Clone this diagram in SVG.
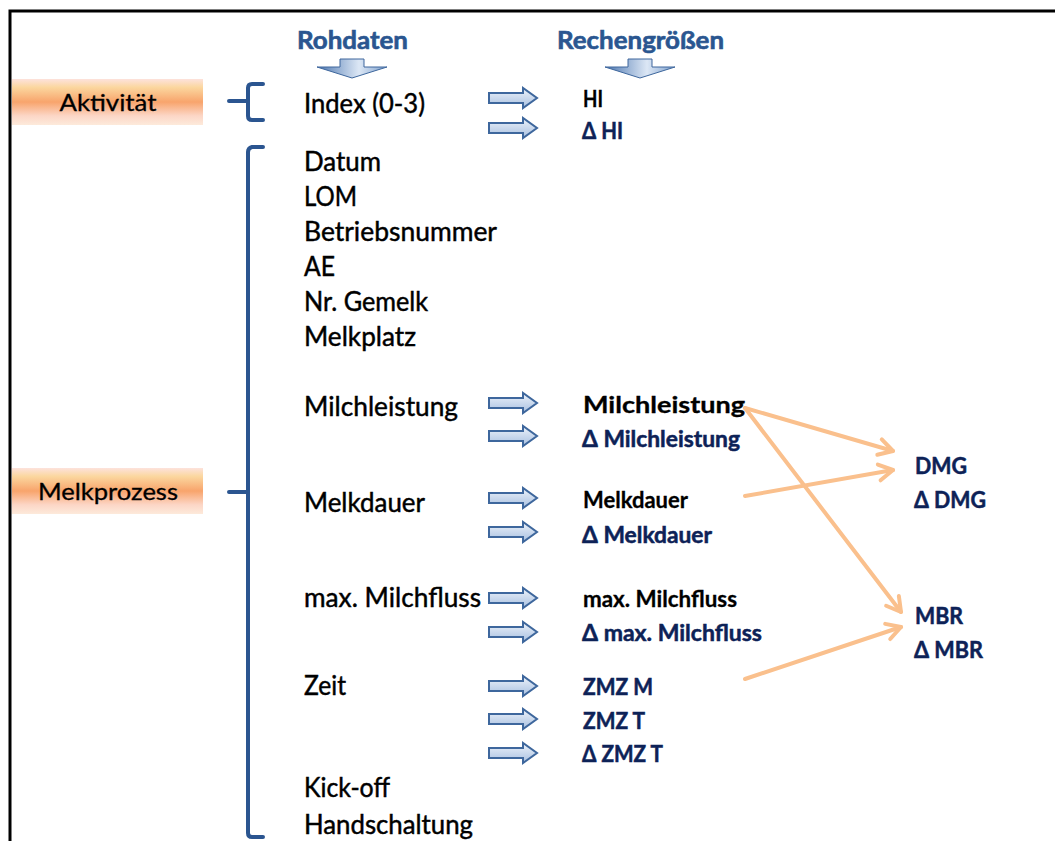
<svg xmlns="http://www.w3.org/2000/svg" width="1055" height="841" viewBox="0 0 1055 841">
  <defs>
    <linearGradient id="band" x1="0" y1="0" x2="0" y2="1">
      <stop offset="0" stop-color="#fde2dc"/>
      <stop offset="0.18" stop-color="#fbd79f"/>
      <stop offset="0.5" stop-color="#f8a46c"/>
      <stop offset="0.8" stop-color="#fcd6c6"/>
      <stop offset="1" stop-color="#fdeadb"/>
    </linearGradient>
    <linearGradient id="arrFill" x1="0" y1="0" x2="0" y2="1">
      <stop offset="0" stop-color="#eef3fa"/>
      <stop offset="1" stop-color="#a7bfe0"/>
    </linearGradient>
    <linearGradient id="downFill" x1="0" y1="0" x2="1" y2="0">
      <stop offset="0" stop-color="#4d77b0"/>
      <stop offset="0.6" stop-color="#dce7f5"/>
      <stop offset="1" stop-color="#7c9fcc"/>
    </linearGradient>
    <path id="rarrow" d="M0,-5 H34 V-10 L48,0 L34,10 V5 H0 Z"/>
    <path id="darrow" d="M-12,0 H12 V8 H35 L0,19 L-35,8 H-12 Z"/>
    <marker id="chev" markerUnits="userSpaceOnUse" markerWidth="24" markerHeight="24" refX="18" refY="12" orient="auto">
      <path d="M4,4 L18,12 L4,20" fill="none" stroke="#fac08d" stroke-width="4" stroke-linecap="round" stroke-linejoin="round"/>
    </marker>
  </defs>
  <style>
    .frame { stroke: #000; stroke-width: 3; fill: none; }
    .brace { stroke: #2b5590; stroke-width: 4; fill: none; stroke-linecap: round; stroke-linejoin: round; }
    .raw { font-family: Lato, "Liberation Sans", sans-serif; font-size: 26px; fill: #000; stroke: #000; stroke-width: 0.45; }
    .cat { font-family: Lato, "Liberation Sans", sans-serif; font-size: 24px; fill: #000; stroke: #000; stroke-width: 0.3; text-anchor: middle; }
    .head { font-family: Lato, "Liberation Sans", sans-serif; font-size: 24px; font-weight: bold; fill: #2a5690; stroke: #2a5690; stroke-width: 0.6; }
    .calc { font-family: Lato, "Liberation Sans", sans-serif; font-size: 22px; font-weight: bold; fill: #000; stroke: #000; stroke-width: 0.3; }
    .delta { font-family: Lato, "Liberation Sans", sans-serif; font-size: 22px; font-weight: bold; fill: #0d2257; stroke: #0d2257; stroke-width: 0.5; }
    .rarr { fill: url(#arrFill); stroke: #3e679d; stroke-width: 2; }
    .darr { fill: url(#downFill); stroke: #3e679d; stroke-width: 1; }
    .link { stroke: #fac08d; stroke-width: 4; fill: none; stroke-linecap: round; marker-end: url(#chev); }
  </style>

  <rect width="1055" height="841" fill="#fff"/>
  <!-- outer frame (open on the right and bottom) -->
  <path class="frame" d="M10,841 V11 H1055"/>

  <!-- column headings -->
  <g id="heading-rohdaten">
    <text class="head" x="297" y="49" textLength="111" lengthAdjust="spacingAndGlyphs">Rohdaten</text>
    <use href="#darrow" x="352" y="59" class="darr"/>
  </g>
  <g id="heading-rechengroessen">
    <text class="head" x="557" y="49" textLength="167" lengthAdjust="spacingAndGlyphs">Rechengrößen</text>
    <use href="#darrow" x="640" y="59" class="darr"/>
  </g>

  <!-- categories -->
  <g id="cat-aktivitaet">
    <rect x="12" y="79" width="191" height="46" fill="url(#band)"/>
    <text class="cat" x="108" y="111" textLength="97" lengthAdjust="spacingAndGlyphs">Aktivität</text>
    <path class="brace" d="M263,84 H252 Q248,84 248,88 V116 Q248,120 252,120 H263 M229,101 H248"/>
  </g>
  <g id="cat-melkprozess">
    <rect x="12" y="468" width="191" height="46" fill="url(#band)"/>
    <text class="cat" x="108" y="500" textLength="140" lengthAdjust="spacingAndGlyphs">Melkprozess</text>
    <path class="brace" d="M263,147 H252 Q248,148 248,152 V833 Q248,837 252,837 H263 M229,492 H248"/>
  </g>

  <!-- raw data -->
  <g id="raw-data">
    <text class="raw" x="304" y="113" textLength="121" lengthAdjust="spacingAndGlyphs">Index (0-3)</text>
    <text class="raw" x="304" y="171" textLength="77" lengthAdjust="spacingAndGlyphs">Datum</text>
    <text class="raw" x="304" y="206" textLength="53" lengthAdjust="spacingAndGlyphs">LOM</text>
    <text class="raw" x="304" y="241" textLength="193" lengthAdjust="spacingAndGlyphs">Betriebsnummer</text>
    <text class="raw" x="304" y="276" textLength="31" lengthAdjust="spacingAndGlyphs">AE</text>
    <text class="raw" x="304" y="311" textLength="124" lengthAdjust="spacingAndGlyphs">Nr. Gemelk</text>
    <text class="raw" x="304" y="346" textLength="112" lengthAdjust="spacingAndGlyphs">Melkplatz</text>
    <text class="raw" x="304" y="416" textLength="154" lengthAdjust="spacingAndGlyphs">Milchleistung</text>
    <text class="raw" x="304" y="512" textLength="121" lengthAdjust="spacingAndGlyphs">Melkdauer</text>
    <text class="raw" x="304" y="607" textLength="177" lengthAdjust="spacingAndGlyphs">max. Milchfluss</text>
    <text class="raw" x="304" y="695" textLength="42" lengthAdjust="spacingAndGlyphs">Zeit</text>
    <text class="raw" x="304" y="797" textLength="86" lengthAdjust="spacingAndGlyphs">Kick-off</text>
    <text class="raw" x="304" y="834" textLength="169" lengthAdjust="spacingAndGlyphs">Handschaltung</text>
  </g>

  <!-- derived values -->
  <g id="derived">
    <text class="calc" x="583" y="107" textLength="20" lengthAdjust="spacingAndGlyphs">HI</text>
    <text class="delta" x="582" y="139" textLength="41" lengthAdjust="spacingAndGlyphs">Δ HI</text>
    <text class="calc" x="583" y="413" textLength="162" lengthAdjust="spacingAndGlyphs">Milchleistung</text>
    <text class="delta" x="582" y="447" textLength="158" lengthAdjust="spacingAndGlyphs">Δ Milchleistung</text>
    <text class="calc" x="583" y="508" textLength="105" lengthAdjust="spacingAndGlyphs">Melkdauer</text>
    <text class="delta" x="582" y="543" textLength="130" lengthAdjust="spacingAndGlyphs">Δ Melkdauer</text>
    <text class="calc" x="583" y="607" textLength="154" lengthAdjust="spacingAndGlyphs">max. Milchfluss</text>
    <text class="delta" x="582" y="641" textLength="180" lengthAdjust="spacingAndGlyphs">Δ max. Milchfluss</text>
    <text class="delta" x="583" y="695" textLength="70" lengthAdjust="spacingAndGlyphs">ZMZ M</text>
    <text class="delta" x="583" y="729" textLength="62" lengthAdjust="spacingAndGlyphs">ZMZ T</text>
    <text class="delta" x="582" y="762" textLength="81" lengthAdjust="spacingAndGlyphs">Δ ZMZ T</text>
  </g>

  <g id="dmg">
    <text class="delta" x="915" y="474" textLength="52" lengthAdjust="spacingAndGlyphs">DMG</text>
    <text class="delta" x="914" y="508" textLength="72" lengthAdjust="spacingAndGlyphs">Δ DMG</text>
  </g>
  <g id="mbr">
    <text class="delta" x="915" y="624" textLength="48" lengthAdjust="spacingAndGlyphs">MBR</text>
    <text class="delta" x="914" y="658" textLength="69" lengthAdjust="spacingAndGlyphs">Δ MBR</text>
  </g>

  <!-- connectors -->
  <g id="connectors">
    <use href="#rarrow" class="rarr" x="489" y="98"/>
    <use href="#rarrow" class="rarr" x="489" y="128"/>
    <use href="#rarrow" class="rarr" x="489" y="403"/>
    <use href="#rarrow" class="rarr" x="489" y="436"/>
    <use href="#rarrow" class="rarr" x="489" y="498"/>
    <use href="#rarrow" class="rarr" x="489" y="532"/>
    <use href="#rarrow" class="rarr" x="489" y="598"/>
    <use href="#rarrow" class="rarr" x="489" y="632"/>
    <use href="#rarrow" class="rarr" x="489" y="686"/>
    <use href="#rarrow" class="rarr" x="489" y="719"/>
    <use href="#rarrow" class="rarr" x="489" y="753"/>

    <line class="link" x1="745" y1="408" x2="893" y2="451"/>
    <line class="link" x1="745" y1="408" x2="901" y2="612"/>
    <line class="link" x1="745" y1="496" x2="893" y2="470"/>
    <line class="link" x1="745" y1="679" x2="901" y2="627"/>
  </g>
</svg>
